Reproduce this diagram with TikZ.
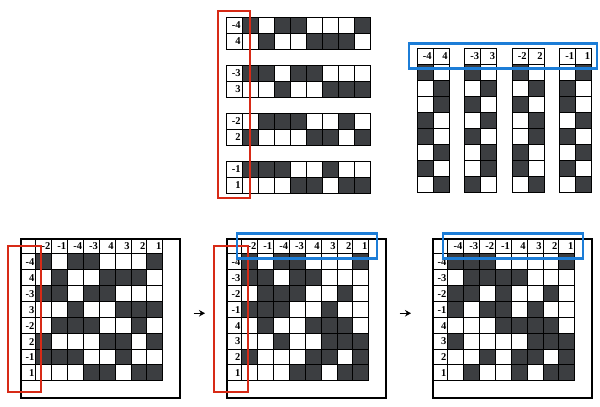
\documentclass[tikz,border=0pt]{standalone}
\usepackage{fontspec}
\setmainfont{Liberation Serif}
\usetikzlibrary{arrows.meta}

\definecolor{cellgray}{RGB}{60,62,65}
\definecolor{markred}{RGB}{215,42,22}
\definecolor{markblue}{RGB}{28,125,215}

\tikzset{
  cell/.style={draw=black, line width=0.9pt},
  lbl/.style={font=\fontsize{10.5}{11}\selectfont\bfseries, inner sep=1.2pt},
  frame/.style={draw=black, line width=2pt, inner sep=0pt},
  redbox/.style={draw=markred, line width=2.8pt},
  bluebox/.style={draw=markblue, line width=2.8pt},
  nextarrow/.style={-{Stealth[length=6pt,width=6.5pt]}, line width=1.3pt}
}

% one labelled cell: name, x, y, size, text
\newcommand{\lblcell}[5]{%
  \draw[cell] ({#2},{#3}) rectangle ++(#4,#4);
  \node[lbl, anchor=east] (#1) at ({#2+#4},{#3+#4/2+0.5}) {#5};}

% a row of cells: x, y, size, bits
\newcommand{\bitrow}[4]{%
  \foreach \b [count=\i from 0] in #4 {%
    \ifnum\b=1\relax \fill[cellgray] ({#1+#3*\i},{#2}) rectangle ++(#3,#3);\fi
    \draw[cell] ({#1+#3*\i},{#2}) rectangle ++(#3,#3);
  }}

% a column of cells: x, y, size, bits
\newcommand{\bitcol}[4]{%
  \foreach \b [count=\i from 0] in #4 {%
    \ifnum\b=1\relax \fill[cellgray] ({#1},{#2+#3*\i}) rectangle ++(#3,#3);\fi
    \draw[cell] ({#1},{#2+#3*\i}) rectangle ++(#3,#3);
  }}

% framed table: name, x, y, column labels, rows (label/bits)
\def\bu{15.85}
\newcommand{\panel}[5]{%
  \node[frame, minimum size=158.5pt, anchor=north west] (#1) at (#2,#3) {};
  \draw[cell] (#2,#3) rectangle ++(\bu,\bu);
  \foreach \c [count=\i] in {#4} {\lblcell{#1-c\i}{#2+\bu*\i}{#3}{\bu}{\c}}
  \foreach \r/\bits [count=\j] in {#5} {%
    \lblcell{#1-r\j}{#2}{#3+\bu*\j}{\bu}{\r}
    \bitrow{#2+\bu}{#3+\bu*\j}{\bu}{\bits}
  }}

\begin{document}
\begin{tikzpicture}[x=1pt, y=-1pt]
\useasboundingbox (0,0) rectangle (600,407);

% rows split in pairs
\foreach \la/\lb/\ba/\bb [count=\p from 0] in {%
    -4/4/{1,0,1,1,0,0,0,1}/{0,1,0,0,1,1,1,0},
    -3/3/{1,1,0,1,1,0,0,0}/{0,0,1,0,0,1,1,1},
    -2/2/{0,1,1,1,0,0,1,0}/{1,0,0,0,1,1,0,1},
    -1/1/{1,1,1,0,0,1,0,0}/{0,0,0,1,1,0,1,1}} {
  \lblcell{pair\p-a}{226}{17+48*\p}{16}{\la}
  \bitrow{242}{17+48*\p}{16}{\ba}
  \lblcell{pair\p-b}{226}{33+48*\p}{16}{\lb}
  \bitrow{242}{33+48*\p}{16}{\bb}
}
\draw[redbox] (218,11) rectangle (250,198);

% columns split in pairs
\foreach \la/\lb/\ba/\bb [count=\p from 0] in {%
    -4/4/{1,0,0,1,1,0,1,0}/{0,1,1,0,0,1,0,1},
    -3/3/{1,0,1,0,1,0,0,1}/{0,1,0,1,0,1,1,0},
    -2/2/{1,0,1,0,0,1,1,0}/{0,1,0,1,1,0,0,1},
    -1/1/{0,1,1,0,1,0,1,0}/{1,0,0,1,0,1,0,1}} {
  \lblcell{col\p-a}{417+47.5*\p}{48}{16}{\la}
  \lblcell{col\p-b}{433+47.5*\p}{48}{16}{\lb}
  \bitcol{417+47.5*\p}{64}{16}{\ba}
  \bitcol{433+47.5*\p}{64}{16}{\bb}
}
\draw[bluebox] (409,43.5) rectangle (597,68.5);

% the three tables
\panel{gridA}{20}{238}{-2,-1,-4,-3,4,3,2,1}{%
  -4/{1,0,1,1,0,0,0,1}, 4/{0,1,0,0,1,1,1,0},
  -3/{1,1,0,1,1,0,0,0}, 3/{0,0,1,0,0,1,1,1},
  -2/{0,1,1,1,0,0,1,0}, 2/{1,0,0,0,1,1,0,1},
  -1/{1,1,1,0,0,1,0,0}, 1/{0,0,0,1,1,0,1,1}}
\panel{gridB}{226}{238}{-2,-1,-4,-3,4,3,2,1}{%
  -4/{1,0,1,1,0,0,0,1}, -3/{1,1,0,1,1,0,0,0},
  -2/{0,1,1,1,0,0,1,0}, -1/{1,1,1,0,0,1,0,0},
  4/{0,1,0,0,1,1,1,0}, 3/{0,0,1,0,0,1,1,1},
  2/{1,0,0,0,1,1,0,1}, 1/{0,0,0,1,1,0,1,1}}
\panel{gridC}{432}{238}{-4,-3,-2,-1,4,3,2,1}{%
  -4/{1,1,1,0,0,0,0,1}, -3/{0,1,1,1,1,0,0,0},
  -2/{1,1,0,1,0,0,1,0}, -1/{1,0,1,1,0,1,0,0},
  4/{0,0,0,1,1,1,1,0}, 3/{1,0,0,0,0,1,1,1},
  2/{0,0,1,0,1,1,0,1}, 1/{0,1,0,0,1,0,1,1}}

\draw[redbox] (8,246) rectangle (41,392);
\draw[redbox] (214,246) rectangle (248,392);
\draw[bluebox] (237,233.5) rectangle (377,258.5);
\draw[bluebox] (443,233.5) rectangle (583,258.5);

\draw[nextarrow] ([xshift=13pt,yshift=5pt]gridA.east) -- ([xshift=-21pt,yshift=5pt]gridB.west);
\draw[nextarrow] ([xshift=13pt,yshift=5pt]gridB.east) -- ([xshift=-21pt,yshift=5pt]gridC.west);
\end{tikzpicture}
\end{document}
